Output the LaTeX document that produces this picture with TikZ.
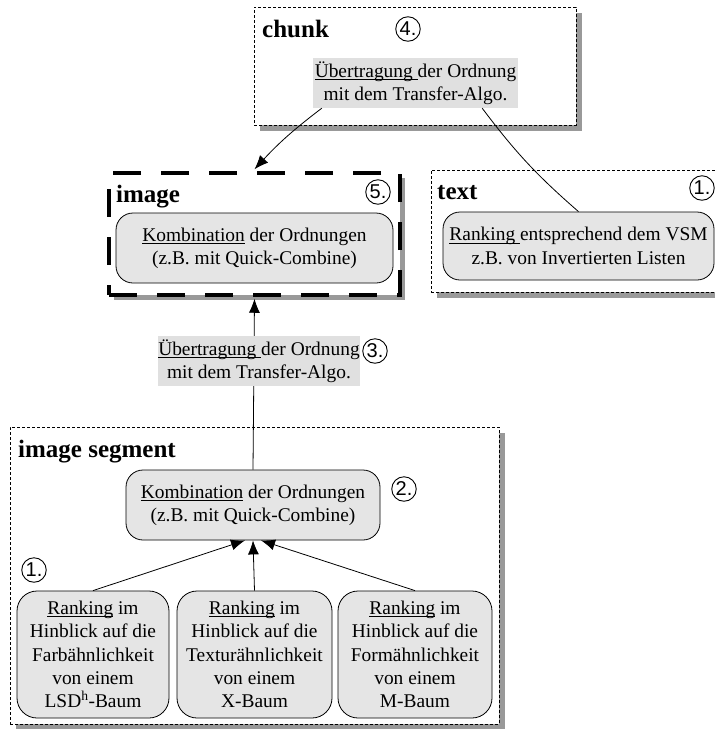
\documentclass[tikz,border=0pt]{standalone}
\usepackage{fontspec}
\setmainfont{Liberation Serif}
\newfontfamily\numfont{Liberation Sans}
\usetikzlibrary{arrows.meta,calc,shadows}
\newcommand\myul[1]{\setbox0\hbox{#1}\rlap{\rule[-2.6pt]{\wd0}{0.7pt}}\box0\relax}
\begin{document}
\begin{tikzpicture}[x=1pt,y=-1pt,
  body/.style={font=\fontsize{19.4}{23.3}\selectfont, align=center},
  hdr/.style={font=\fontsize{25}{28}\selectfont\bfseries, anchor=base west, inner sep=0pt},
  num/.style={circle, draw, line width=0.9pt, minimum size=24.5pt, inner sep=0pt, font=\numfont\fontsize{20}{20}\selectfont},
  rbox/.style={body, draw, line width=0.8pt, fill=black!10, rounded corners=17pt, inner sep=0pt},
  lbl/.style={body, fill=black!12, inner sep=0pt},
  shad/.style={drop shadow={shadow xshift=6pt, shadow yshift=-6pt, fill=black!40, opacity=1}},
  dbox/.style={draw, dash pattern=on 3pt off 2pt, line width=0.7pt, fill=white, inner sep=0pt, shad},
  tbox/.style={draw, dash pattern=on 28pt off 20pt, line width=3.5pt, fill=white, inner sep=0pt,
    drop shadow={shadow xshift=5pt, shadow yshift=-5pt, fill=black!40, opacity=1}},
  arr/.style={-{Latex[length=14pt,width=11pt]}, line width=0.8pt},
  ln/.style={line width=0.8pt}
]
\useasboundingbox (0,0) rectangle (715,729);

% containers
\node[dbox, minimum width=322pt, minimum height=118pt] (chunkbox) at (415,66) {};
\node[tbox, minimum width=291pt, minimum height=122pt] (imagebox) at (254.5,234) {};
\node[dbox, minimum width=291pt, minimum height=122pt] (textbox) at (576.5,231) {};
\node[dbox, minimum width=489pt, minimum height=297pt] (segbox) at (254.5,575.5) {};

% headers
\node[hdr] (chunkhdr) at (262,37) {chunk};
\node[hdr] (imagehdr) at (116,202) {image};
\node[hdr] (texthdr) at (437,199) {text};
\node[hdr] (seghdr) at (18,457) {image segment};

% numbers
\node[num] (n4) at (408,29) {4.};
\node[num] (n5) at (378,192) {5.};
\node[num] (n1t) at (702,188) {1.};
\node[num] (n3) at (375,351) {3.};
\node[num] (n2) at (404,489) {2.};
\node[num] (n1s) at (34,570) {1.};

% content nodes
\node[lbl, minimum width=205pt, minimum height=50pt] (chunklabel) at (415.5,83)
  {\myul{Übertragung }der Ordnung\\mit dem Transfer-Algo.};
\node[rbox, minimum width=277pt, minimum height=70pt] (imgkomb) at (254.5,248)
  {\myul{Kombination} der Ordnungen\\(z.B. mit Quick-Combine)};
\node[rbox, minimum width=271pt, minimum height=68pt] (textnode) at (578.5,246)
  {\myul{Ranking }entsprechend dem VSM\\z.B. von Invertierten Listen};
\node[rbox, minimum width=254pt, minimum height=70pt] (segkomb) at (253,505)
  {\myul{Kombination} der Ordnungen\\(z.B. mit Quick-Combine)};
\node[rbox, rounded corners=20pt, minimum width=152pt, minimum height=127pt] (rank1) at (93,654.5)
  {\myul{Ranking} im\\Hinblick auf die\\Farbähnlichkeit\\von einem\\LSD\textsuperscript{h}-Baum};
\node[rbox, rounded corners=20pt, minimum width=155pt, minimum height=127pt] (rank2) at (254.5,654.5)
  {\myul{Ranking} im\\Hinblick auf die\\Texturähnlichkeit\\von einem\\X-Baum};
\node[rbox, rounded corners=20pt, minimum width=154pt, minimum height=127pt] (rank3) at (415,654.5)
  {\myul{Ranking} im\\Hinblick auf die\\Formähnlichkeit\\von einem\\M-Baum};

% connectors
\draw[arr] (rank1.north) -- ([xshift=-8pt]segkomb.south);
\draw[arr] (rank2.north) -- (segkomb.south);
\draw[arr] (rank3.north) -- ([xshift=8pt]segkomb.south);
\draw[arr] (segkomb.north) -- ([yshift=-2pt]imagebox.south);
\node[lbl, minimum width=196pt, minimum height=50pt] (lab3) at (259,361)
  {\myul{Übertragung }der Ordnung\\mit dem Transfer-Algo.};
\draw[arr] ([xshift=9pt]chunklabel.south west) to[bend right=5] ([yshift=2pt]imagebox.north);
\draw[ln] (textnode.north) to[bend left=6] ([xshift=-36pt]chunklabel.south east);
\end{tikzpicture}
\end{document}
